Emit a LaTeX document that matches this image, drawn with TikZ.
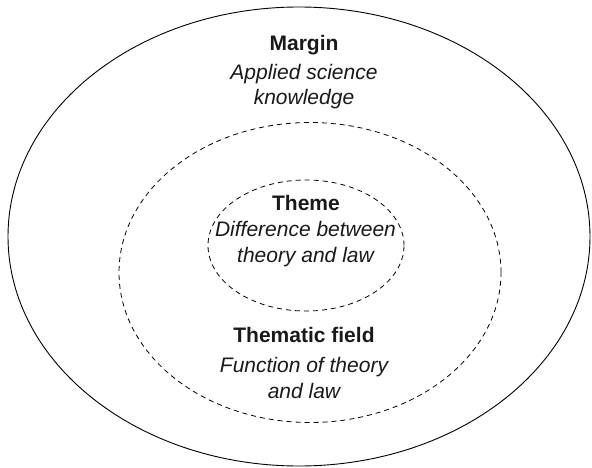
\documentclass[tikz,border=0pt]{standalone}
\usepackage{fontspec}
\setmainfont{Liberation Sans}
\usetikzlibrary{shapes.geometric}
\tikzset{
  ring/.style={draw=black, ellipse, inner sep=0pt, line width=0.9pt},
  dashring/.style={draw=black, ellipse, inner sep=0pt, line width=0.8pt, dash pattern=on 5pt off 4pt},
  title/.style={inner sep=0pt, anchor=base, font=\fontsize{21}{25.5}\selectfont\bfseries, text=black!90},
  desc/.style={inner sep=0pt, anchor=base, align=center, font=\fontsize{21}{25.5}\selectfont\itshape, text=black!90},
}
\begin{document}
\begin{tikzpicture}[x=1pt,y=-1pt]
\useasboundingbox (0,0) rectangle (592,468);
\node[ring, minimum width=582pt, minimum height=459pt] (outer) at (299,236.5) {};
\node[dashring, minimum width=382pt, minimum height=300pt] (middle) at (310,272.5) {};
\node[dashring, minimum width=196pt, minimum height=131pt] (inner) at (306,245.5) {};
\node[title] (margin) at (304,51) {Margin};
\node[desc] (margindesc) at (304,105) {Applied science\\knowledge};
\node[title] (theme) at (306,211) {Theme};
\node[desc] (themedesc) at (305.5,262) {Difference between\\theory and law};
\node[title] (field) at (304,342) {Thematic field};
\node[desc] (fielddesc) at (304,398) {Function of theory\\and law};
\end{tikzpicture}
\end{document}
